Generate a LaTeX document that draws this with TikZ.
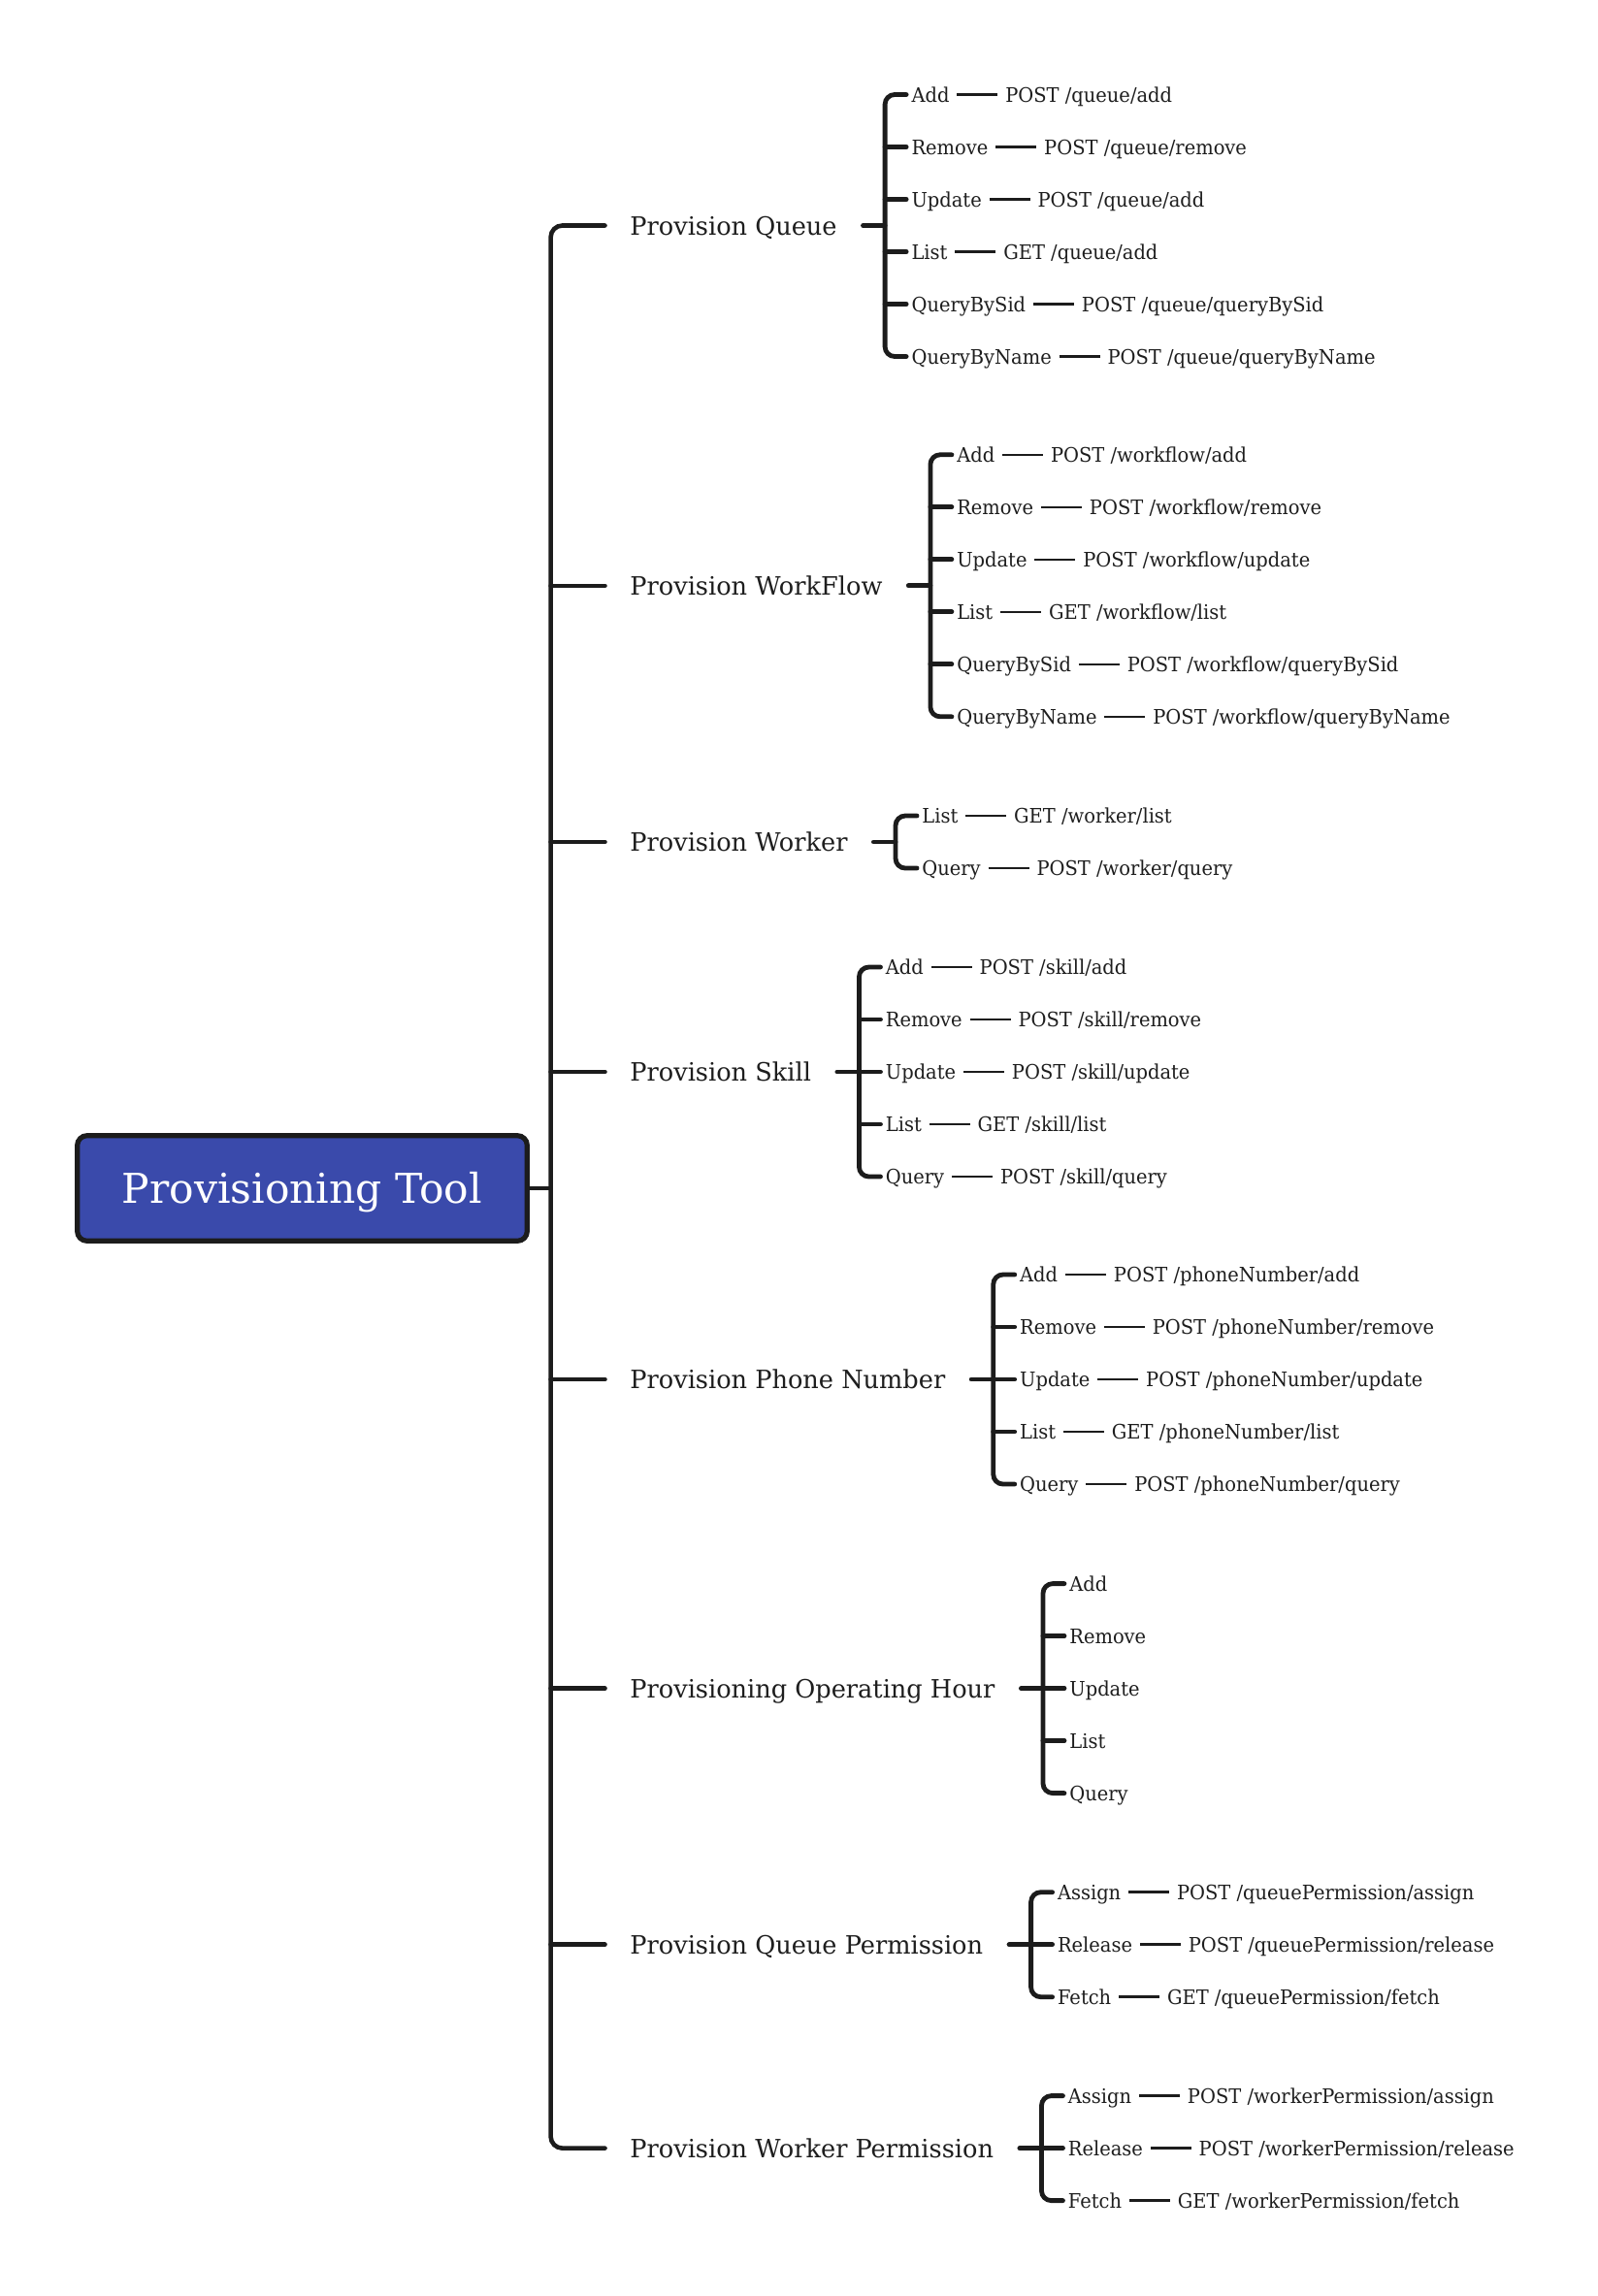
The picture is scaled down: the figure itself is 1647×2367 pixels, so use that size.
\documentclass[tikz,border=0pt]{standalone}
\usepackage{fontspec}
\setmainfont{DejaVu Serif}
\newfontfamily\kidfamily{DejaVu Serif}[FakeStretch=0.945]
\newfontfamily\labfamily{DejaVu Serif}[FakeStretch=0.985]
\usetikzlibrary{calc}
\definecolor{ink}{HTML}{1C1C1C}
\definecolor{txt}{HTML}{1E1E1E}
\definecolor{rootfill}{HTML}{3A4AAB}

\tikzset{
  lab/.style={anchor=west, inner sep=0pt, text height=9.5pt, text depth=0pt,
    font=\labfamily\fontsize{13pt}{15pt}\selectfont, text=txt},
  kid/.style={anchor=west, inner sep=0pt, text height=7.5pt, text depth=0pt,
    font=\kidfamily\fontsize{10.3pt}{12pt}\selectfont, text=txt},
  rootbox/.style={draw=ink, line width=2.6pt, fill=rootfill, rounded corners=5pt,
    minimum width=231.8pt, minimum height=54.3pt, inner sep=0pt,
    text height=15.4pt, text depth=0pt, text=white,
    font=\fontsize{21.2pt}{25pt}\selectfont},
  trunk/.style={draw=ink, line width=2.3pt, line cap=round},
  brace/.style={draw=ink, line width=2.4pt, line cap=round},
  link/.style={draw=ink, line width=1.3pt},
}

% a topic with a bracket of children, each child followed by its endpoint
\newcommand\mmgroup[5]{%
  \node[lab] (#1) at (649,#2) {#3};
  \coordinate (#1v) at ([xshift=24.55pt]#1.east);
  \draw[brace, shorten <=13.25pt] (#1.east) -- (#1v);
  \foreach \c/\e [count=\i] in {#5} {%
    \node[kid] (#1c\i) at ([xshift=13.5pt, yshift={(#4-1)*13.5pt-(\i-1)*27pt}]#1v) {\c};
    \node[kid] (#1e\i) at ([xshift=28.5pt]#1c\i.east) {\e};
    \draw[link, shorten <=3.75pt, shorten >=3.75pt] (#1c\i.east) -- (#1e\i.west);
    \ifnum\i>1 \ifnum\i<#4
      \draw[brace] (#1v |- #1c\i.west) -- ([xshift=-2.5pt]#1c\i.west);
    \fi\fi
  }
  \draw[brace, rounded corners=5pt] ([xshift=-2.5pt]#1c1.west) -| (#1v |- #1c#4.west)
    -- ([xshift=-2.5pt]#1c#4.west);
}

% a topic with a bracket of plain children
\newcommand\mmplain[5]{%
  \node[lab] (#1) at (649,#2) {#3};
  \coordinate (#1v) at ([xshift=24.55pt]#1.east);
  \draw[brace, shorten <=13.25pt] (#1.east) -- (#1v);
  \foreach \c [count=\i] in {#5} {%
    \node[kid] (#1c\i) at ([xshift=13.5pt, yshift={(#4-1)*13.5pt-(\i-1)*27pt}]#1v) {\c};
    \ifnum\i>1 \ifnum\i<#4
      \draw[brace] (#1v |- #1c\i.west) -- ([xshift=-2.5pt]#1c\i.west);
    \fi\fi
  }
  \draw[brace, rounded corners=5pt] ([xshift=-2.5pt]#1c1.west) -| (#1v |- #1c#4.west)
    -- ([xshift=-2.5pt]#1c#4.west);
}

\begin{document}
\begin{tikzpicture}[x=0.5pt, y=-0.5pt]
  \useasboundingbox (0,0) rectangle (1647,2367);

  \node[rootbox] (root) at (311.5,1225) {Provisioning Tool};

  \mmgroup{g1}{232.5}{Provision Queue}{6}{Add/{POST /queue/add}, Remove/{POST /queue/remove},
    Update/{POST /queue/add}, List/{GET /queue/add}, QueryBySid/{POST /queue/queryBySid},
    QueryByName/{POST /queue/queryByName}}
  \mmgroup{g2}{603.8}{Provision WorkFlow}{6}{Add/{POST /workflow/add}, Remove/{POST /workflow/remove},
    Update/{POST /workflow/update}, List/{GET /workflow/list}, QueryBySid/{POST /workflow/queryBySid},
    QueryByName/{POST /workflow/queryByName}}
  \mmgroup{g3}{868}{Provision Worker}{2}{List/{GET /worker/list}, Query/{POST /worker/query}}
  \mmgroup{g4}{1105}{Provision Skill}{5}{Add/{POST /skill/add}, Remove/{POST /skill/remove},
    Update/{POST /skill/update}, List/{GET /skill/list}, Query/{POST /skill/query}}
  \mmgroup{g5}{1422}{Provision Phone Number}{5}{Add/{POST /phoneNumber/add},
    Remove/{POST /phoneNumber/remove}, Update/{POST /phoneNumber/update},
    List/{GET /phoneNumber/list}, Query/{POST /phoneNumber/query}}
  \mmplain{g6}{1740.6}{Provisioning Operating Hour}{5}{Add, Remove, Update, List, Query}
  \mmgroup{g7}{2004.7}{Provision Queue Permission}{3}{Assign/{POST /queuePermission/assign},
    Release/{POST /queuePermission/release}, Fetch/{GET /queuePermission/fetch}}
  \mmgroup{g8}{2214.6}{Provision Worker Permission}{3}{Assign/{POST /workerPermission/assign},
    Release/{POST /workerPermission/release}, Fetch/{GET /workerPermission/fetch}}

  % trunk joining the central topic to every main topic
  \coordinate (tk) at (567.6,1225);
  \draw[trunk, rounded corners=6pt] ([xshift=-12.75pt]g1.west) -| (tk |- g8.west)
    -- ([xshift=-12.75pt]g8.west);
  \foreach \k in {2,...,7}
    \draw[trunk] (tk |- g\k.west) -- ([xshift=-12.75pt]g\k.west);
  \draw[trunk] (root.east) -- (tk |- root.east);
\end{tikzpicture}
\end{document}
